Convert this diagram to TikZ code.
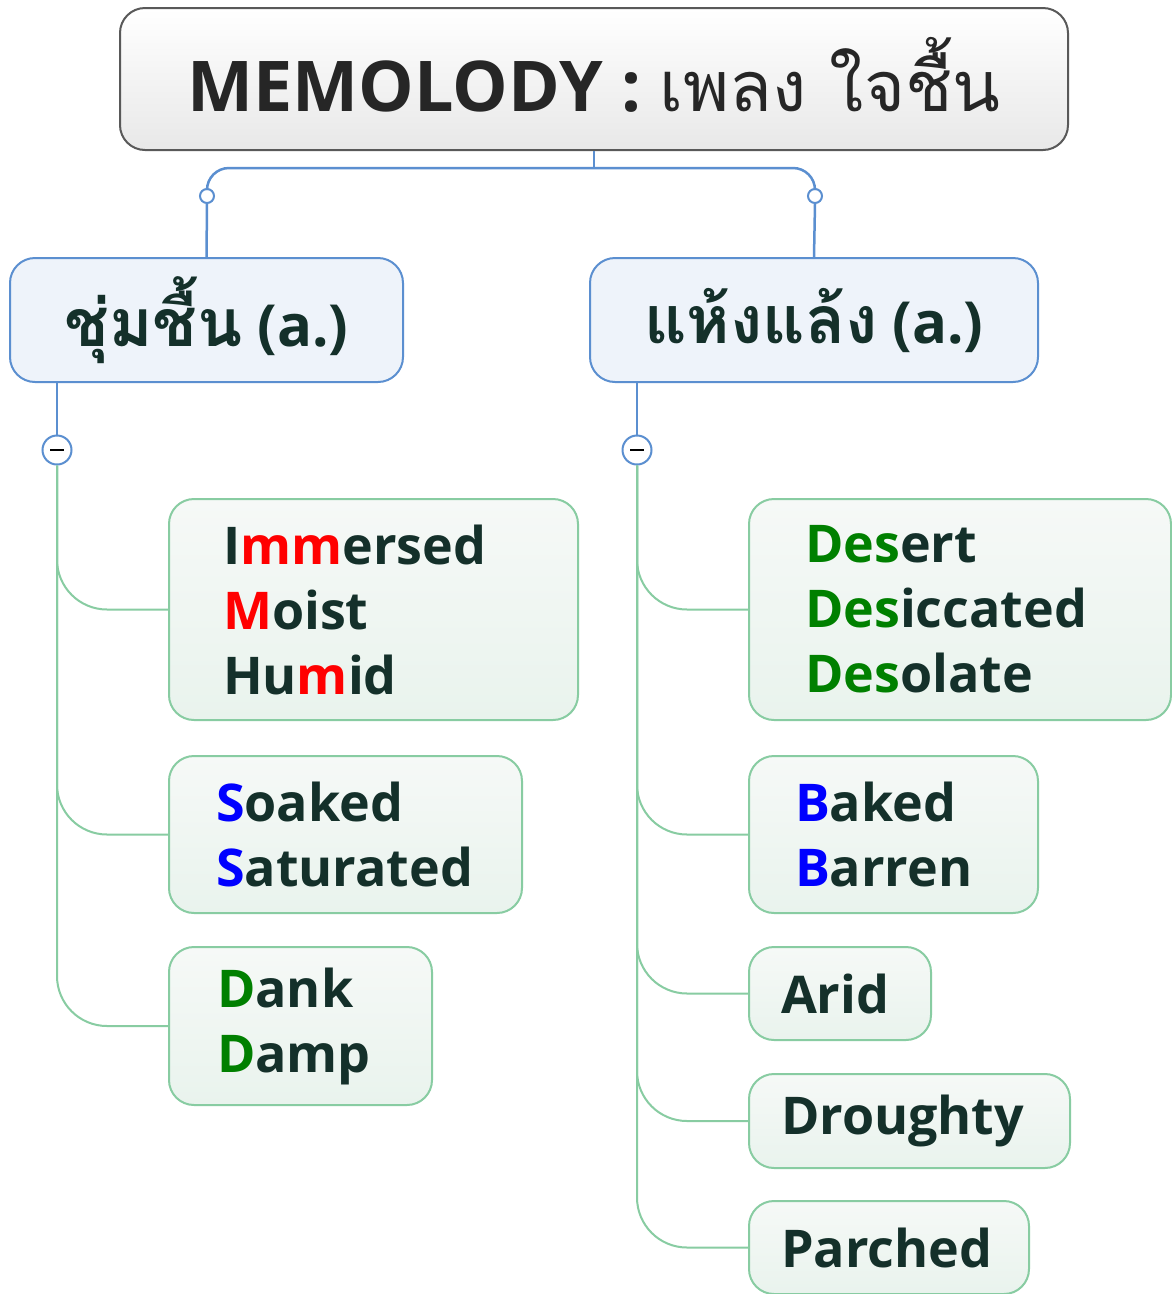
\documentclass[tikz,border=0pt]{standalone}
\usepackage{fontspec}
\setmainfont{Open Sans}
\newfontfamily\thaifont[Script=Thai]{Loma}
\usetikzlibrary{positioning}
\definecolor{mmBlue}{HTML}{5B8FD0}
\definecolor{mmBlueFill}{HTML}{EEF3FA}
\definecolor{mmGreen}{HTML}{88CCA2}
\definecolor{mmLeafTop}{HTML}{F6F9F7}
\definecolor{mmLeafBot}{HTML}{E9F3ED}
\definecolor{mmInk}{HTML}{14302A}
\definecolor{mmRed}{HTML}{FF0000}
\definecolor{mmBluetxt}{HTML}{0000FF}
\definecolor{mmGreentxt}{HTML}{008000}
\newcommand\mred[1]{\textcolor{mmRed}{#1}}
\newcommand\mblue[1]{\textcolor{mmBluetxt}{#1}}
\newcommand\mgreen[1]{\textcolor{mmGreentxt}{#1}}

\begin{document}
\begin{tikzpicture}[x=1pt,y=-1pt,
  titlebox/.style={draw=black!65,line width=2pt,rounded corners=25pt,top color=white,bottom color=black!9,
    minimum width=948pt,minimum height=142pt,font=\fontsize{70}{74}\selectfont\bfseries,text=black!85},
  sidebox/.style={draw=mmBlue,line width=2pt,rounded corners=25pt,fill=mmBlueFill,
    minimum height=124pt,font=\fontsize{58}{62}\selectfont\bfseries,text=mmInk},
  leaf/.style={draw=mmGreen,line width=2pt,rounded corners=25pt,top color=mmLeafTop,bottom color=mmLeafBot,
    anchor=west,align=left,font=\fontsize{52}{65}\selectfont\bfseries,text=mmInk},
  knob/.style={circle,draw=mmBlue,line width=2pt,fill=white,inner sep=0pt},
  stem/.style={draw=mmBlue,line width=2.5pt},
  twig/.style={draw=mmGreen,line width=2pt,rounded corners=50pt}]
\fill[white] (0,0) rectangle (1171,1294);
\useasboundingbox (0,0) rectangle (1171,1294);

% root and the two main branches
\node[titlebox] (title) at (594,79) {\raisebox{9pt}{MEMOLODY : {\thaifont\mdseries เพลง ใจชื้น}}};
\node[sidebox,minimum width=393pt] (wet) at (206.5,320) {\raisebox{4pt}{{\thaifont\fontsize{66}{70}\selectfont ชุ่มชื้น} (a.)}};
\node[sidebox,minimum width=448pt] (dry) at (814,320) {\raisebox{4pt}{{\thaifont\fontsize{66}{70}\selectfont แห้งแล้ง} (a.)}};

\coordinate (hub) at (594,168);
\node[knob,minimum size=14pt] (wetjoin) at (207,196) {};
\node[knob,minimum size=14pt] (dryjoin) at (815,196) {};
\draw[stem] (title.south) -- (hub);
\draw[stem,rounded corners=22pt] (wetjoin.north) |- (hub) -| (dryjoin.north);
\draw[stem] (wetjoin.south) -- (wet.north);
\draw[stem] (dryjoin.south) -- (dry.north);

% collapse buttons
\node[knob,minimum size=29pt] (wetfold) at (57,450) {\rule{14pt}{2.5pt}};
\node[knob,minimum size=29pt] (dryfold) at (637,450) {\rule{14pt}{2.5pt}};
\draw[stem] (wetfold.north) -- (wetfold.north |- wet.south);
\draw[stem] (dryfold.north) -- (dryfold.north |- dry.south);

% leaves
\foreach \n/\x/\y/\w/\h/\s/\t in {
  moistA/168/609.5/409/221/54/{I\mred{mm}ersed\\\mred{M}oist\\Hu\mred{m}id},
  moistB/168/834.5/353/157/47/{\mblue{S}oaked\\\mblue{S}aturated},
  moistC/168/1026/263/158/48/{\mgreen{D}ank\\\mgreen{D}amp},
  dryA/748/609.5/422/221/56/{\mgreen{Des}ert\\\mgreen{Des}iccated\\\mgreen{Des}olate},
  dryB/748/834.5/289/157/46/{\mblue{B}aked\\\mblue{B}arren},
  dryC/748/993.5/182/93/32/{Arid},
  dryD/748/1121/321/94/32/{Droughty},
  dryE/748/1247.5/280/93/32/{Parched}}
  \node[leaf,inner xsep=\s pt,text width=\w pt-2*\s pt,minimum height=\h pt] (\n) at (\x,\y) {\t};

\foreach \n in {moistA,moistB,moistC}
  \draw[twig] (wetfold.south) |- (\n.west);
\foreach \n in {dryA,dryB,dryC,dryD,dryE}
  \draw[twig] (dryfold.south) |- (\n.west);
\end{tikzpicture}
\end{document}
